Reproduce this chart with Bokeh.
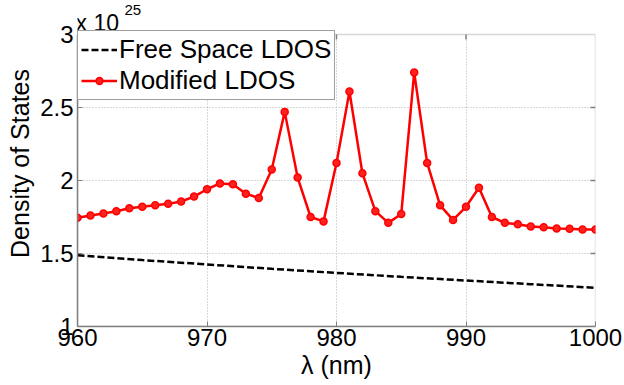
from bokeh.plotting import figure
from bokeh.models import (Range1d, FixedTicker, Label, Legend, LegendItem, BoxAnnotation)
from bokeh.embed import file_html
from bokeh.resources import INLINE

# wavelength (nm)
lam = [960, 961, 962, 963, 964, 965, 966, 967, 968, 969, 970,
       971, 972, 973, 974, 975, 976, 977, 978, 979, 980,
       981, 982, 983, 984, 985, 986, 987, 988, 989, 990,
       991, 992, 993, 994, 995, 996, 997, 998, 999, 1000]
# modified LDOS (x 1e25)
mod_ldos = [1.745, 1.76, 1.774, 1.79, 1.81, 1.82, 1.83, 1.84, 1.856, 1.89, 1.94,
            1.98, 1.975, 1.91, 1.88, 2.075, 2.47, 2.02, 1.75, 1.72, 2.12,
            2.61, 2.05, 1.79, 1.71, 1.77, 2.74, 2.12, 1.83, 1.73, 1.82,
            1.95, 1.75, 1.71, 1.70, 1.685, 1.68, 1.672, 1.67, 1.665, 1.665]
# free space LDOS (x 1e25)
lam_free = [960, 965, 970, 975, 980, 985, 990, 995, 1000]
free_ldos = [1.488, 1.455, 1.425, 1.395, 1.367, 1.34, 1.315, 1.29, 1.265]

x_ticks = [960, 970, 980, 990, 1000]
y_ticks = [1, 1.5, 2, 2.5, 3]
y_tick_labels = ["1", "1.5", "2", "2.5", "3"]

X0, X1, Y0, Y1 = 960, 1000, 1, 3
FONT = "Liberation Sans"
AX = "#7f7f7f"

W, H, LEFT, RIGHT, BOTTOM, BOX_TOP = 624, 385, 77, 29, 59, 34   # canvas px
frame_h = H - BOTTOM
frame_w = W - LEFT - RIGHT
px_per_unit_y = (frame_h - BOX_TOP) / (Y1 - Y0)
px_per_unit_x = frame_w / (X1 - X0)
y_top = Y0 + frame_h / px_per_unit_y        # extra room above the axes box for the exponent
LEG_H = 66
TICK = 5

p = figure(width=W, height=H, output_backend="svg", toolbar_location=None, title=None,
           x_range=Range1d(X0, X1), y_range=Range1d(Y0, y_top),
           min_border_left=LEFT, min_border_right=RIGHT, min_border_top=0,
           min_border_bottom=BOTTOM)
p.background_fill_color = "white"
p.border_fill_color = "white"
p.outline_line_color = None

for ax in (p.xaxis[0], p.yaxis[0]):
    ax.axis_line_color = AX
    ax.axis_line_width = 1.5
    ax.major_tick_line_color = AX
    ax.major_tick_in = TICK
    ax.major_tick_out = 0
    ax.minor_tick_line_color = None
    ax.major_label_text_font = FONT
    ax.major_label_text_font_size = "24px"
    ax.major_label_text_color = "black"
    ax.axis_label_text_font = FONT
    ax.axis_label_text_font_size = "25px"
    ax.axis_label_text_font_style = "normal"
    ax.axis_label_text_color = "black"

p.yaxis.bounds = (Y0, Y1)
p.xaxis.ticker = FixedTicker(ticks=x_ticks)
p.yaxis.ticker = FixedTicker(ticks=y_ticks)
p.yaxis.major_label_overrides = {t: s for t, s in zip(y_ticks, y_tick_labels)}
p.xaxis.axis_label = "λ (nm)"
p.yaxis.axis_label = "Density of States"
p.xaxis.major_label_standoff = 2
p.yaxis.major_label_standoff = 4
p.xaxis.axis_label_standoff = 2
p.yaxis.axis_label_standoff = 3

p.xgrid.ticker = FixedTicker(ticks=x_ticks[1:-1])
p.ygrid.ticker = FixedTicker(ticks=y_ticks[1:-1])
for g in (p.xgrid[0], p.ygrid[0]):
    g.grid_line_color = "#b0b0b0"
    g.grid_line_dash = "1 2"
    g.grid_line_width = 1

# white cover above the axes box (hides grid lines there) and the axes box itself
p.add_layout(BoxAnnotation(bottom=Y1, fill_color="white", fill_alpha=1.0, line_color=None,
                           level="underlay"))
p.add_layout(BoxAnnotation(left=X0, right=X1, bottom=Y0, top=Y1, fill_alpha=0.0,
                           line_color=AX, line_width=1.5, level="underlay"))

# inward tick marks on the top and right edges of the box
top_t = x_ticks[1:-1]
p.segment(x0=top_t, y0=[Y1] * len(top_t), x1=top_t,
          y1=[Y1 - TICK / px_per_unit_y] * len(top_t), line_color=AX, line_width=1.5)
right_t = y_ticks[1:-1]
p.segment(x0=[X1] * len(right_t), y0=right_t, x1=[X1 - TICK / px_per_unit_x] * len(right_t),
          y1=right_t, line_color=AX, line_width=1.5)

r_free = p.line(lam_free, free_ldos, line_color="black", line_width=2.5, line_dash="7 3")
r_mod = p.line(lam, mod_ldos, line_color="#ff0000", line_width=2.5)
r_pts = p.scatter(lam, mod_ldos, marker="circle", size=7, fill_color="#ff2020",
                  line_color="#ff0000", line_width=1.5)

legend = Legend(items=[LegendItem(label="Free Space LDOS", renderers=[r_free]),
                       LegendItem(label="Modified LDOS", renderers=[r_mod, r_pts])],
                location=(0, frame_h - BOX_TOP - LEG_H), margin=0, padding=3, spacing=0,
                label_text_font=FONT, label_text_font_size="26px", label_text_color="black",
                label_height=30, glyph_height=17, glyph_width=36, label_standoff=2,
                border_line_color="#404040", border_line_width=1,
                background_fill_color="white", background_fill_alpha=1.0)
p.add_layout(legend, "center")

p.add_layout(Label(x=X0, y=Y1, x_offset=-2, y_offset=12, text="x 10", text_font=FONT,
                   text_font_size="23px", text_color="black", text_baseline="alphabetic",
                   text_align="left", level="overlay"))
p.add_layout(Label(x=X0, y=Y1, x_offset=47, y_offset=25, text="25", text_font=FONT,
                   text_font_size="15px", text_color="black", text_baseline="alphabetic",
                   text_align="left", level="overlay"))

open("out.html", "w").write(file_html(p, INLINE))
